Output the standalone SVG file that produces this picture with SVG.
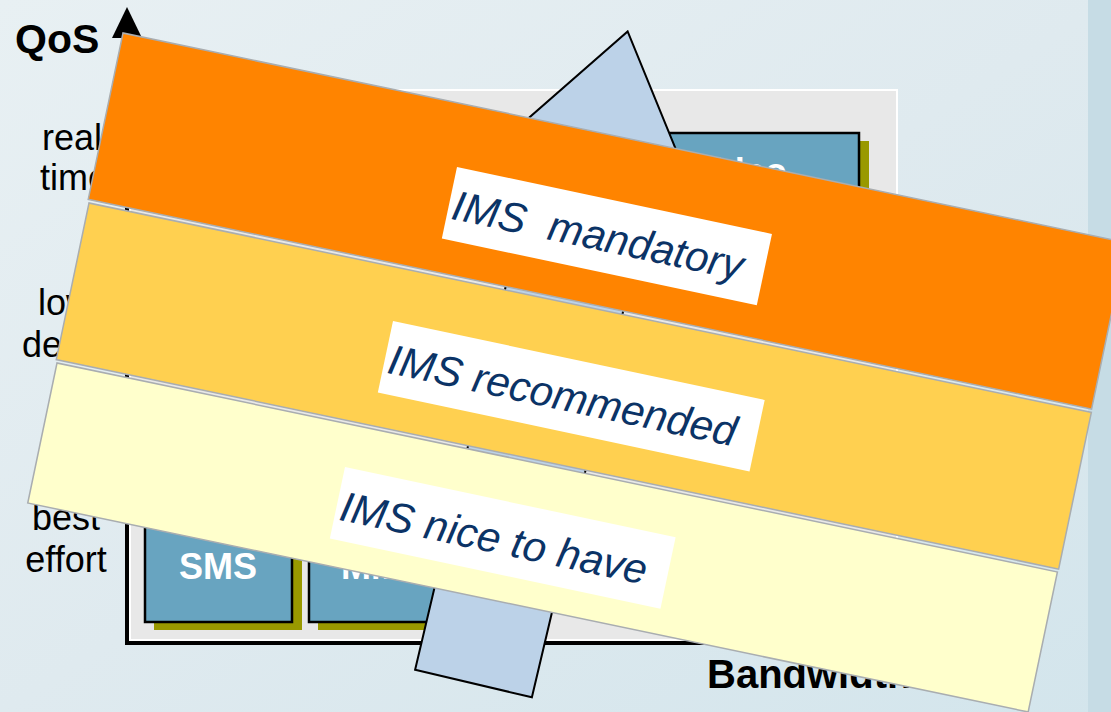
<svg xmlns="http://www.w3.org/2000/svg" width="1111" height="712" viewBox="0 0 1111 712">
  <defs>
    <linearGradient id="bg" x1="0" y1="0" x2="1" y2="1">
      <stop offset="0" stop-color="#e8f0f3"/>
      <stop offset="0.5" stop-color="#dfeaef"/>
      <stop offset="1" stop-color="#d3e5ec"/>
    </linearGradient>
    <style>
      .axis-lbl { font-family: "Liberation Sans", Arial, sans-serif; font-size: 36px; fill: #000; text-anchor: middle; }
      .axis-title { font-family: "Liberation Sans", Arial, sans-serif; font-size: 41px; font-weight: bold; fill: #000; }
      .svc { fill: #68a4c0; stroke: #000; stroke-width: 2.5; }
      .shadow { fill: #999900; }
      .svc-txt { font-family: "Liberation Sans", Arial, sans-serif; font-size: 36px; font-weight: bold; fill: #fff; text-anchor: middle; }
      .band { stroke: #a9adb0; stroke-width: 1.5; }
      .lbl-box { fill: #fff; }
      .lbl-txt { font-family: "Liberation Sans", Arial, sans-serif; font-size: 42px; font-style: italic; fill: #0b3366; white-space: pre; }
    </style>
  </defs>

  <!-- background -->
  <rect x="0" y="0" width="1111" height="712" fill="url(#bg)"/>
  <rect x="1088" y="0" width="23" height="712" fill="#c6dce5"/>

  <!-- chart panel -->
  <g id="panel">
    <rect x="125" y="95" width="767" height="550" fill="#000"/>
    <rect x="130" y="90" width="767" height="550" fill="#e8e8e8" stroke="#fff" stroke-width="2"/>
  </g>

  <!-- service boxes -->
  <g id="node-sms">
    <rect class="shadow" x="154" y="513" width="148" height="117"/>
    <rect class="svc" x="145" y="505" width="147" height="117"/>
    <text class="svc-txt" x="218" y="579">SMS</text>
  </g>
  <g id="node-mms">
    <rect class="shadow" x="318" y="513" width="148" height="117"/>
    <rect class="svc" x="309" y="505" width="147" height="117"/>
    <text class="svc-txt" x="383" y="579">MMS</text>
  </g>
  <g id="node-video">
    <rect class="shadow" x="626" y="141" width="243" height="117"/>
    <rect class="svc" x="617" y="133" width="242" height="117"/>
    <text class="svc-txt" x="738" y="184">Video</text>
  </g>

  <!-- big arrow -->
  <g id="node-arrow">
    <polygon transform="translate(473.5,683.5) rotate(13.3)" points="-60,0 60,0 60,-516 110,-516 0,-670 -110,-516 -60,-516" fill="#bcd2e8" stroke="#000" stroke-width="2"/>
  </g>

  <!-- axes -->
  <g id="connectors">
    <polygon points="127,7 112,38 142,38" fill="#000"/>
  </g>

  <g id="axis-labels">
    <text class="axis-title" x="15" y="53">QoS</text>
    <text class="axis-title" x="707" y="688" style="font-size:40px">Bandwidth</text>
    <text class="axis-lbl" x="72" y="150">real</text>
    <text class="axis-lbl" x="74" y="190">time</text>
    <text class="axis-lbl" x="65" y="315">low</text>
    <text class="axis-lbl" x="65" y="357">delay</text>
    <text class="axis-lbl" x="66" y="530">best</text>
    <text class="axis-lbl" x="66" y="572">effort</text>
  </g>

  <!-- bands -->
  <g id="band-mandatory" transform="translate(123,33) rotate(11.8)">
    <rect class="band" x="0" y="0" width="1025" height="170" fill="#ff8400"/>
  </g>
  <g id="band-recommended" transform="translate(89,203) rotate(11.8)">
    <rect class="band" x="0" y="0" width="1024" height="160" fill="#ffd050"/>
  </g>
  <g id="band-nice" transform="translate(57,363) rotate(11.8)">
    <rect class="band" x="0" y="0" width="1022" height="143" fill="#ffffcc"/>
  </g>

  <!-- band labels -->
  <g id="label-mandatory" transform="translate(457,167) rotate(12)">
    <rect class="lbl-box" x="0" y="0" width="322" height="73"/>
    <text class="lbl-txt" x="4" y="52" xml:space="preserve">IMS  mandatory</text>
  </g>
  <g id="label-recommended" transform="translate(393,321) rotate(12)">
    <rect class="lbl-box" x="0" y="0" width="380" height="73"/>
    <text class="lbl-txt" x="4" y="52">IMS recommended</text>
  </g>
  <g id="label-nice" transform="translate(345,467) rotate(12)">
    <rect class="lbl-box" x="0" y="0" width="338" height="73"/>
    <text class="lbl-txt" x="4" y="53">IMS nice to have</text>
  </g>
</svg>
